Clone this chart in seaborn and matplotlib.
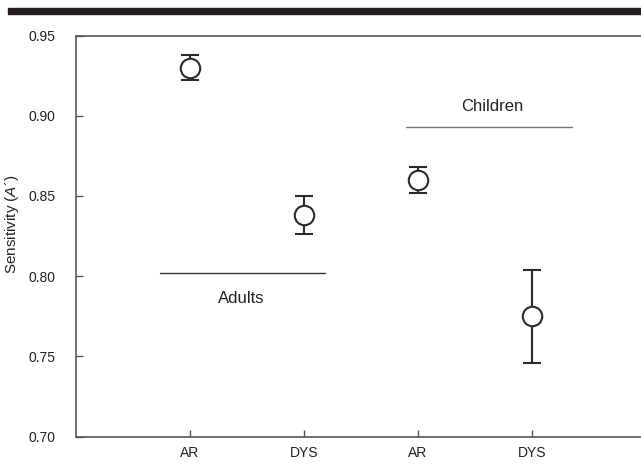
import matplotlib
matplotlib.use("Agg")
import matplotlib.pyplot as plt
import seaborn as sns
import pandas as pd
from matplotlib.patches import Rectangle

groups = ["AR", "DYS", "AR", "DYS"]
x_pos = [1, 2, 3, 4]
means = [0.930, 0.838, 0.860, 0.775]
errors = [0.008, 0.012, 0.008, 0.029]
yticks = [0.70, 0.75, 0.80, 0.85, 0.90, 0.95]

df = pd.DataFrame({"x": x_pos, "mean": means, "err": errors, "group": groups})

sns.set_theme(style="ticks")
plt.rcParams["font.family"] = ["Liberation Sans", "DejaVu Sans"]
plt.rcParams["mathtext.fontset"] = "custom"
plt.rcParams["mathtext.it"] = "Liberation Sans:italic"
plt.rcParams["mathtext.rm"] = "Liberation Sans"

fig = plt.figure(figsize=(6.41, 4.66), dpi=100)
ax = fig.add_axes([76/641, 1 - 436.5/466, 1 - 76/641, (436.5 - 35.5)/466])

dark = "#2a2a2a"
ax.errorbar(df["x"], df["mean"], yerr=df["err"], fmt="none", ecolor=dark,
            elinewidth=1.5, capsize=6.7, capthick=1.5, zorder=2)
sns.scatterplot(data=df, x="x", y="mean", ax=ax, s=14**2, marker="o",
                facecolor="white", edgecolor=dark, linewidth=1.5, zorder=3,
                legend=False)

ax.set_xlim(0, 4.96)
ax.set_ylim(0.70, 0.95)
ax.set_xticks(x_pos)
ax.set_xticklabels(groups)
ax.set_yticks(yticks)
ax.set_yticklabels([f"{v:.2f}" for v in yticks])
ax.tick_params(direction="in", length=5, width=1, color="#555555",
               labelsize=10, labelcolor="#222222")
ax.tick_params(axis="y", pad=15)
ax.tick_params(axis="x", pad=6.5)
ax.set_xlabel("")
ax.set_ylabel("Sensitivity ($\\mathit{A}$´)", fontsize=11, color="#222222")
ax.yaxis.set_label_coords(-0.097, 0.53)

ax.spines["right"].set_visible(False)
for side in ["left", "top", "bottom"]:
    ax.spines[side].set_color("#555555")
    ax.spines[side].set_linewidth(1.2)

# group annotations
ax.plot([0.74, 2.19], [0.802, 0.802], color="#333333", lw=1)
ax.text(1.45, 0.786, "Adults", ha="center", va="center", fontsize=12, color="#222222")
ax.plot([2.9, 4.35], [0.893, 0.893], color="#777777", lw=1)
ax.text(3.65, 0.906, "Children", ha="center", va="center", fontsize=12, color="#222222")

fig.patches.append(Rectangle((8/641, 1 - 14/466), 1 - 8/641, 6/466,
                             transform=fig.transFigure, color="#231f20", zorder=10))

fig.savefig("out.png", dpi=100)
